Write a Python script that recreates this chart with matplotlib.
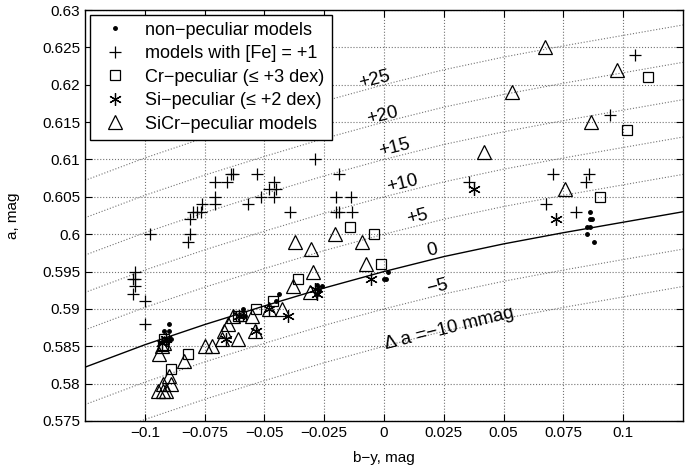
import numpy as np
import matplotlib
matplotlib.use("Agg")
import matplotlib.pyplot as plt

plt.rcParams['font.family'] = ['Liberation Sans', 'DejaVu Sans']

# zero line, offset lines are shifts of it (mmag)
curve_x = [-0.125, -0.1, -0.075, -0.05, -0.025, 0.0, 0.025, 0.05, 0.075, 0.1, 0.125]
curve_y = [0.5822, 0.5852, 0.5879, 0.5904, 0.5928, 0.5950, 0.5970, 0.5987, 0.6002, 0.6016, 0.6030]
offsets = [-10, -5, 5, 10, 15, 20, 25]

nonpec_x = [-0.090, -0.092, -0.090, -0.091, -0.089, -0.059, -0.060, -0.058, -0.044, -0.045,
            -0.028, -0.027, -0.026, -0.028, 0.0016, 0.0002, 0.001,
            0.086, 0.086, 0.087, 0.085, 0.086, 0.085, 0.088]
nonpec_y = [0.588, 0.587, 0.587, 0.586, 0.586, 0.590, 0.589, 0.589, 0.592, 0.591,
            0.5932, 0.5925, 0.593, 0.592, 0.595, 0.594, 0.594,
            0.603, 0.602, 0.602, 0.601, 0.601, 0.600, 0.599]

fe_x = [-0.104, -0.105, -0.104, -0.104, -0.105, -0.100, -0.100, -0.098,
        -0.082, -0.081, -0.081, -0.080, -0.078, -0.0765, -0.076,
        -0.0705, -0.0656, -0.064, -0.063, -0.053, -0.046, -0.048, -0.045, -0.0515, -0.046,
        -0.0705, -0.0705, -0.057, -0.0395, -0.029,
        -0.019, -0.020, -0.014, -0.020, -0.019, -0.0135,
        0.0355, 0.0676, 0.0706, 0.0857, 0.0846, 0.0804, 0.0944, 0.1048]
fe_y = [0.595, 0.594, 0.594, 0.593, 0.592, 0.591, 0.588, 0.600,
        0.599, 0.600, 0.602, 0.603, 0.603, 0.603, 0.604,
        0.607, 0.607, 0.608, 0.608, 0.608, 0.607, 0.606, 0.606, 0.605, 0.605,
        0.605, 0.604, 0.604, 0.603, 0.610,
        0.608, 0.605, 0.605, 0.603, 0.603, 0.603,
        0.607, 0.604, 0.608, 0.608, 0.607, 0.603, 0.616, 0.624]

cr_x = [0.1105, 0.1016, 0.0905, -0.0141, -0.0043, -0.0013, -0.036,
        -0.0465, -0.0535, -0.061, -0.0598, -0.082, -0.089, -0.092, -0.0925]
cr_y = [0.621, 0.614, 0.605, 0.601, 0.600, 0.596, 0.594,
        0.591, 0.590, 0.589, 0.589, 0.584, 0.582, 0.586, 0.585]

si_x = [0.0376, 0.0718, -0.0054, -0.040, -0.029, -0.028, -0.0535, -0.066, -0.0605, -0.048, -0.091, -0.093]
si_y = [0.606, 0.602, 0.594, 0.589, 0.5927, 0.592, 0.587, 0.586, 0.589, 0.590, 0.586, 0.5855]

sicr_x = [0.0675, 0.0976, 0.0536, 0.0864, 0.0416, 0.0755,
          -0.0203, -0.0374, -0.0305, -0.0091, -0.0075, -0.0295, -0.038, -0.031,
          -0.0425, -0.048, -0.0553, -0.054, -0.0632, -0.0653, -0.0667, -0.0678, -0.0612,
          -0.075, -0.072, -0.0835, -0.0942, -0.093, -0.092,
          -0.0945, -0.0925, -0.091, -0.0925, -0.089, -0.090]
sicr_y = [0.625, 0.622, 0.619, 0.615, 0.611, 0.606,
          0.600, 0.599, 0.598, 0.599, 0.596, 0.595, 0.593, 0.5923,
          0.590, 0.590, 0.589, 0.587, 0.589, 0.588, 0.587, 0.586, 0.586,
          0.585, 0.585, 0.583, 0.584, 0.585, 0.5855,
          0.579, 0.579, 0.579, 0.580, 0.580, 0.581]

xticks = [-0.1, -0.075, -0.05, -0.025, 0, 0.025, 0.05, 0.075, 0.1]
xticklabels = ['\u22120.1', '\u22120.075', '\u22120.05', '\u22120.025', '0', '0.025', '0.05', '0.075', '0.1']
yticks = [0.575, 0.58, 0.585, 0.59, 0.595, 0.6, 0.605, 0.61, 0.615, 0.62, 0.625, 0.63]
yticklabels = ['0.575', '0.58', '0.585', '0.59', '0.595', '0.6', '0.605', '0.61', '0.615', '0.62', '0.625', '0.63']

# line labels: text, x, y
lab_text = ['+25', '+20', '+15', '+10', '+5', '0', '\u22125', '\u0394 a =\u221210 mmag']
lab_x = [-0.004, -0.0006, 0.0044, 0.0077, 0.014, 0.0203, 0.0224, 0.0274]
lab_y = [0.6206, 0.6159, 0.6115, 0.6068, 0.6023, 0.5978, 0.5929, 0.5874]

fig = plt.figure(figsize=(6.99, 4.72), dpi=100)
ax = fig.add_axes([85 / 699, 51 / 472, 598 / 699, 411 / 472])

cx = np.array(curve_x)
cy = np.array(curve_y)
for off in offsets:
    ax.plot(cx, cy + off / 1000.0, linestyle=':', color='0.45', linewidth=0.8, zorder=1)
ax.plot(cx, cy, color='k', linewidth=1.0, zorder=2)

ax.plot(nonpec_x, nonpec_y, '.', color='k', markersize=5, label='non\u2212peculiar models', zorder=3)
ax.plot(fe_x, fe_y, '+', color='k', markersize=9, markeredgewidth=0.9, label='models with [Fe] = +1', zorder=3)
ax.plot(cr_x, cr_y, 's', color='k', markerfacecolor='none', markersize=7, markeredgewidth=0.9,
        label='Cr\u2212peculiar (\u2264 +3 dex)', zorder=3)
ax.plot(si_x, si_y, linestyle='none', marker=(6, 2, 0), color='k', markersize=9, markeredgewidth=0.9,
        label='Si\u2212peculiar (\u2264 +2 dex)', zorder=3)
ax.plot(sicr_x, sicr_y, '^', color='k', markerfacecolor='none', markersize=10, markeredgewidth=0.9,
        label='SiCr\u2212peculiar models', zorder=3)

for t, x, y in zip(lab_text, lab_x, lab_y):
    ax.text(x, y, t, fontsize=13.5, rotation=14, ha='center', va='center', zorder=4)

ax.set_xlim(-0.125, 0.125)
ax.set_ylim(0.575, 0.63)
ax.set_xticks(xticks)
ax.set_xticklabels(xticklabels)
ax.set_yticks(yticks)
ax.set_yticklabels(yticklabels)
ax.tick_params(direction='in', top=True, right=True, labelsize=11, length=5, width=0.8)
ax.grid(True, linestyle=':', color='0.45', linewidth=0.8)
for s in ax.spines.values():
    s.set_linewidth(1.0)

ax.set_xlabel('b\u2212y, mag', fontsize=11, labelpad=8)
ax.set_ylabel('a, mag', fontsize=11, labelpad=16)

leg = ax.legend(loc='upper left', fontsize=13, frameon=True, fancybox=False, edgecolor='k',
                framealpha=1, borderaxespad=0.25, labelspacing=0.36, handlelength=2.0,
                handletextpad=0.7, borderpad=0.4)
leg.get_frame().set_linewidth(1.0)

fig.savefig('out.png', dpi=100)
